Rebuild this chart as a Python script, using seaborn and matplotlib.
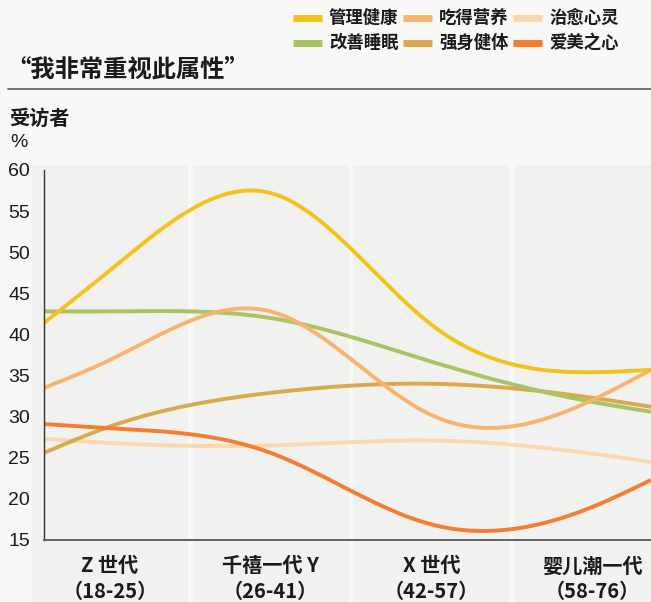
import numpy as np
import pandas as pd
import matplotlib
matplotlib.use("Agg")
import matplotlib.pyplot as plt
import matplotlib.transforms as mtransforms
from matplotlib.patches import Rectangle
from matplotlib.lines import Line2D
import seaborn as sns

# ---------------- data ----------------
categories = ["Z 世代\n（18-25）", "千禧一代 Y\n（26-41）", "X 世代\n（42-57）", "婴儿潮一代\n（58-76）"]
series_names = ["管理健康", "吃得营养", "治愈心灵", "改善睡眠", "强身健体", "爱美之心"]
# values at left edge, each generation, right edge
x_left, x_right = -0.41, 3.367
manage_health = [41.4, 47.8, 57.2, 41.2, 35.4, 35.7]
eat_nutrition = [33.5, 36.9, 42.8, 30.2, 32.0, 35.7]
heal_mind     = [27.3, 26.8, 26.5, 27.1, 25.5, 24.5]
improve_sleep = [42.8, 42.8, 42.0, 36.7, 31.8, 30.6]
body_fitness  = [25.6, 28.8, 32.9, 34.0, 32.3, 31.2]
love_beauty   = [29.1, 28.6, 25.6, 16.9, 19.0, 22.3]
series_values = [manage_health, eat_nutrition, heal_mind, improve_sleep, body_fitness, love_beauty]
colors = ["#F4C21C", "#F6B46E", "#FCD8AE", "#A9C262", "#D9AA4C", "#F47D32"]
yticks = [15, 20, 25, 30, 35, 40, 45, 50, 55, 60]


def natural_spline(x, y, xs):
    x = np.asarray(x, float); y = np.asarray(y, float)
    n = len(x); h = np.diff(x)
    A = np.zeros((n, n)); r = np.zeros(n)
    A[0, 0] = 1; A[-1, -1] = 1
    for i in range(1, n - 1):
        A[i, i - 1] = h[i - 1]; A[i, i] = 2 * (h[i - 1] + h[i]); A[i, i + 1] = h[i]
        r[i] = 6 * ((y[i + 1] - y[i]) / h[i] - (y[i] - y[i - 1]) / h[i - 1])
    M = np.linalg.solve(A, r)
    idx = np.clip(np.searchsorted(x, xs) - 1, 0, n - 2)
    x0 = x[idx]; x1 = x[idx + 1]; hh = x1 - x0
    a = (x1 - xs) / hh; b = (xs - x0) / hh
    return a * y[idx] + b * y[idx + 1] + ((a ** 3 - a) * M[idx] + (b ** 3 - b) * M[idx + 1]) * hh ** 2 / 6


sns.set_theme(style="white")
plt.rcParams['font.family'] = ['Noto Sans CJK SC', 'DejaVu Sans']

fig = plt.figure(figsize=(6.51, 6.02), dpi=100, facecolor="#F8F8F6")
ax = fig.add_axes([44 / 651, 1 - 540 / 602, 1 - 44 / 651, (540 - 170) / 602])
ax.set_facecolor("none")

xk = [x_left, 0, 1, 2, 3, x_right]
xs = np.linspace(x_left, x_right, 400)
rows = []
for name, vals in zip(series_names, series_values):
    ys = natural_spline(xk, vals, xs)
    rows.append(pd.DataFrame({"x": xs, "y": ys, "series": name}))
df = pd.concat(rows, ignore_index=True)

draw_order = ["治愈心灵", "强身健体", "改善睡眠", "吃得营养", "爱美之心", "管理健康"]
pal = dict(zip(series_names, colors))
for name in draw_order:
    sub = df[df["series"] == name]
    sns.lineplot(data=sub, x="x", y="y", color=pal[name], lw=2.8, ax=ax,
                 estimator=None, sort=False, legend=False, solid_capstyle="butt")

ax.set_xlim(x_left, x_right)
ax.set_ylim(15, 60)
ax.set_xlabel(""); ax.set_ylabel("")
ax.set_yticks(yticks)
ax.set_yticklabels([str(t) for t in yticks], fontsize=14, color="#1a1a1a",
                   family=["Liberation Sans", "DejaVu Sans"])
ax.tick_params(axis="y", length=0, pad=10)
ax.set_xticks(range(len(categories)))
ax.set_xticklabels(categories, fontsize=14.5, color="#1a1a1a", fontweight="bold", linespacing=1.25)
ax.tick_params(axis="x", length=0, pad=11)
for s in ["top", "right"]:
    ax.spines[s].set_visible(False)
ax.spines["left"].set_color("#333333"); ax.spines["left"].set_linewidth(1.0)
ax.spines["bottom"].set_color("#555555"); ax.spines["bottom"].set_linewidth(1.3)

# background bands per generation
trans = mtransforms.blended_transform_factory(ax.transData, fig.transFigure)
for i in range(len(categories)):
    fig.patches.append(Rectangle((i - 0.485, 0), 0.97, 1 - 165 / 602, transform=trans,
                                 facecolor="#F1F1EF", edgecolor="none", zorder=-5))

# title, rule, y label
fig.text(6 / 651, 1 - 70 / 602, "“我非常重视此属性”", fontsize=17.5, fontweight="bold",
         color="#1a1a1a", va="center", ha="left")
fig.add_artist(Line2D([8 / 651, 1], [1 - 89 / 602] * 2, color="#666666", lw=1.3))
fig.text(9 / 651, 1 - 118 / 602, "受访者", fontsize=14.5, fontweight="bold", color="#1a1a1a",
         va="center", ha="left")
fig.text(10 / 651, 1 - 143 / 602, "%", fontsize=14, color="#1a1a1a", va="center", ha="left",
         family=["Liberation Sans", "DejaVu Sans"])

# legend (two rows of three)
leg_x = [293, 403, 513]
leg_y = [18, 43]
for k, (name, c) in enumerate(zip(series_names, colors)):
    r, cidx = divmod(k, 3)
    x0 = leg_x[cidx]; y0 = 1 - leg_y[r] / 602
    fig.add_artist(Line2D([x0 / 651, (x0 + 29) / 651], [y0, y0], color=c, lw=5, solid_capstyle="butt"))
    fig.text((x0 + 36) / 651, y0, name, fontsize=12.5, fontweight="bold", color="#1a1a1a",
             va="center", ha="left")

fig.savefig("out.png", dpi=100, facecolor=fig.get_facecolor())
